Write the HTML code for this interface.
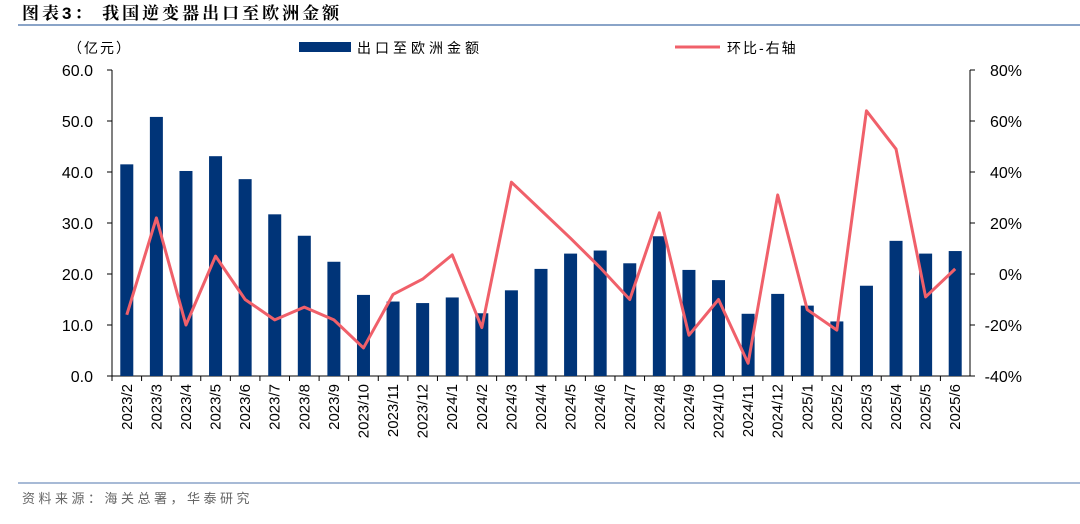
<!DOCTYPE html>
<html><head><meta charset="utf-8"><style>
body{margin:0;width:1080px;height:519px;background:#fff;overflow:hidden;font-family:"Liberation Sans","Noto Sans CJK SC",sans-serif}
</style></head><body>
<svg width="1080" height="519" xmlns="http://www.w3.org/2000/svg">
<text x="22" y="19" font-size="17" font-weight="bold" fill="#000" letter-spacing="3" font-family="Liberation Sans, Noto Serif CJK SC, sans-serif">图表3：  我国逆变器出口至欧洲金额</text>
<line x1="18" y1="25" x2="1080" y2="25" stroke="#8aa4c8" stroke-width="2"/>
<text x="68" y="53" font-size="14" fill="#000" letter-spacing="2">（亿元）</text>
<rect x="299" y="42" width="52" height="10" fill="#003478"/>
<text x="357" y="53" font-size="14" fill="#000" letter-spacing="4">出口至欧洲金额</text>
<line x1="675" y1="47" x2="720" y2="47" stroke="#f0606a" stroke-width="3"/>
<text x="727" y="53" font-size="14" fill="#000" letter-spacing="2">环比-右轴</text>
<g id="plot"></g>
<line x1="18" y1="483" x2="1080" y2="483" stroke="#8aa4c8" stroke-width="1.5"/>
<text x="22" y="503" font-size="13" fill="#666" letter-spacing="3.5">资料来源：海关总署，华泰研究</text>
</svg>
<script>
const categories=["2023/2","2023/3","2023/4","2023/5","2023/6","2023/7","2023/8","2023/9","2023/10","2023/11","2023/12","2024/1","2024/2","2024/3","2024/4","2024/5","2024/6","2024/7","2024/8","2024/9","2024/10","2024/11","2024/12","2025/1","2025/2","2025/3","2025/4","2025/5","2025/6"];
const exportValues=[41.5,50.8,40.2,43.1,38.6,31.7,27.5,22.4,15.9,14.6,14.3,15.4,12.3,16.8,21.0,24.0,24.6,22.1,27.4,20.8,18.8,12.2,16.1,13.8,10.7,17.7,26.5,24.0,24.5];
const momValues=[-16,22,-20,7,-10,-18,-13,-18,-29,-8,-2,7.5,-21,36,25,14,2.5,-10,24,-24,-10,-35,31,-14,-22,64,49,-9,2];
const leftTicks=["0.0","10.0","20.0","30.0","40.0","50.0","60.0"];
const rightTicks=["-40%","-20%","0%","20%","40%","60%","80%"];
const NS="http://www.w3.org/2000/svg";
const g=document.getElementById('plot');
const x0=112,x1=970,yTop=70,yBot=376;
const step=(x1-x0)/categories.length;
const xc=i=>x0+step*(i+0.5);
const yL=v=>yBot-(v/60)*(yBot-yTop);
const yR=v=>yBot-((v+40)/120)*(yBot-yTop);
function mk(t,a){const e=document.createElementNS(NS,t);for(const k in a)e.setAttribute(k,a[k]);g.appendChild(e);return e;}
let ax=mk('line',{x1:x0,y1:yTop,x2:x0,y2:yBot,stroke:'#000'});


let ax2=mk('line',{x1:x1,y1:yTop,x2:x1,y2:yBot,stroke:'#000'});


let ax3=mk('line',{x1:x0,y1:yBot,x2:x1,y2:yBot,stroke:'#000'});


leftTicks.forEach((t,i)=>{const y=yL(parseFloat(t));
 const tk=mk('line',{x1:x0-5,y1:y,x2:x0,y2:y,stroke:'#000'});
 
 
 const tx=mk('text',{x:93,y:y+6,'font-size':16,'text-anchor':'end',fill:'#000'});tx.textContent=t;
 
 });
rightTicks.forEach((t,i)=>{const y=yR(parseFloat(t));
 const tk=mk('line',{x1:x1,y1:y,x2:x1+5,y2:y,stroke:'#000'});
 
 
 const tx=mk('text',{x:1022,y:y+6,'font-size':16,'text-anchor':'end',fill:'#000'});tx.textContent=t;
 
 });
categories.forEach((c,i)=>{
 const tk=mk('line',{x1:x0+step*i,y1:yBot,x2:x0+step*i,y2:yBot+5,stroke:'#000'});
 
 
 const b=mk('rect',{x:xc(i)-6.5,y:yL(exportValues[i]),width:13,height:yBot-yL(exportValues[i]),fill:'#003478'});
 
 
 const tx=mk('text',{x:0,y:0,'font-size':15,'text-anchor':'end',fill:'#000',transform:`translate(${xc(i)+5},384) rotate(-90)`});tx.textContent=c;
 
 });
const pts=momValues.map((v,i)=>xc(i)+','+yR(v)).join(' ');
const pl=mk('polyline',{points:pts,fill:'none',stroke:'#f0606a','stroke-width':3,'stroke-linejoin':'round'});


</script>
</body></html>
